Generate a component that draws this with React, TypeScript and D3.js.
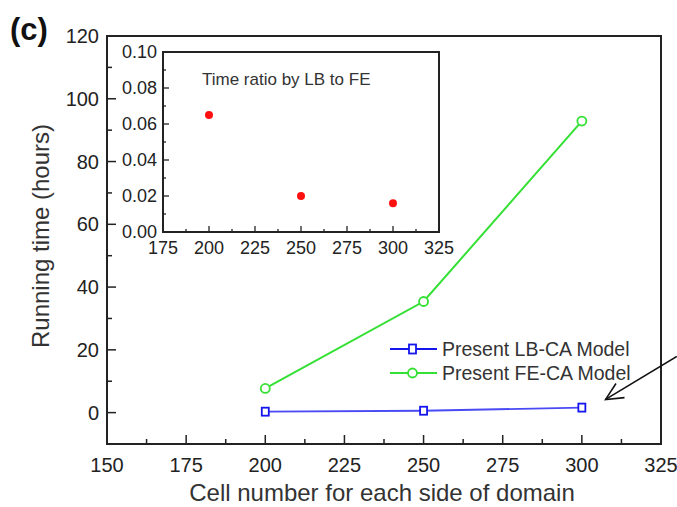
import React, { useEffect, useRef } from "react";
import * as d3 from "d3";

// main chart data
const cells = [200, 250, 300];
const lbTime = [0.3, 0.6, 1.6];
const feTime = [7.7, 35.4, 92.9];
const xTicks = [150, 175, 200, 225, 250, 275, 300, 325];
const yTicks = [0, 20, 40, 60, 80, 100, 120];

// inset data
const ratio = [0.065, 0.02, 0.016];
const insetXTicks = [175, 200, 225, 250, 275, 300, 325];
const insetYTicks = [0, 0.02, 0.04, 0.06, 0.08, 0.1];

// arrow annotation in data units [from, to]
const arrowFrom = [330, 17.9];
const arrowTo = [307.5, 4.2];

const W = 677;
const H = 507;
const FONT = "'Liberation Sans', Arial, sans-serif";
const INK = "#222";

const App = () => {
  const ref = useRef<SVGSVGElement>(null);

  useEffect(() => {
    const svg = d3.select(ref.current);
    svg.selectAll("*").remove();

    const x = d3.scaleLinear().domain([150, 325]).range([107, 661]);
    const y = d3.scaleLinear().domain([-10, 120]).range([444, 36]);

    const g = svg.append("g");

    // ticks (inward) - main
    const xMinor = d3.range(150, 326, 12.5);
    g.selectAll(".xt")
      .data(xMinor)
      .join("line")
      .attr("x1", d => x(d))
      .attr("x2", d => x(d))
      .attr("y1", 444)
      .attr("y2", d => (d % 25 === 0 ? 435 : 439))
      .attr("stroke", INK)
      .attr("stroke-width", 1.5);

    const yMinor = d3.range(0, 121, 10);
    g.selectAll(".yt")
      .data(yMinor)
      .join("line")
      .attr("x1", 107)
      .attr("x2", d => (d % 20 === 0 ? 116 : 112))
      .attr("y1", d => y(d))
      .attr("y2", d => y(d))
      .attr("stroke", INK)
      .attr("stroke-width", 1.5);

    g.append("rect")
      .attr("x", 107)
      .attr("y", 36)
      .attr("width", 661 - 107)
      .attr("height", 444 - 36)
      .attr("fill", "none")
      .attr("stroke", INK)
      .attr("stroke-width", 2);

    g.selectAll(".xl")
      .data(xTicks)
      .join("text")
      .attr("x", d => x(d))
      .attr("y", 472)
      .attr("text-anchor", "middle")
      .attr("font-size", 20)
      .attr("font-family", FONT)
      .attr("fill", INK)
      .text(d => d);

    g.selectAll(".yl")
      .data(yTicks)
      .join("text")
      .attr("x", 99)
      .attr("y", d => y(d) + 7)
      .attr("text-anchor", "end")
      .attr("font-size", 20)
      .attr("font-family", FONT)
      .attr("fill", INK)
      .text(d => d);

    g.append("text")
      .attr("x", (186 + 578) / 2)
      .attr("y", 501)
      .attr("text-anchor", "middle")
      .attr("font-size", 24)
      .attr("font-family", FONT)
      .attr("fill", "#333")
      .text("Cell number for each side of domain");

    g.append("text")
      .attr("transform", "translate(49,236) rotate(-90)")
      .attr("text-anchor", "middle")
      .attr("font-size", 24)
      .attr("font-family", FONT)
      .attr("fill", "#333")
      .text("Running time (hours)");

    g.append("text")
      .attr("x", 10)
      .attr("y", 40)
      .attr("font-size", 31)
      .attr("font-weight", "bold")
      .attr("font-family", FONT)
      .attr("fill", "#111")
      .text("(c)");

    // series
    const line = d3
      .line<number>()
      .x((_, i) => x(cells[i]))
      .y(d => y(d));

    g.append("path")
      .attr("d", line(feTime))
      .attr("fill", "none")
      .attr("stroke", "#33e033")
      .attr("stroke-width", 2);
    g.selectAll(".fe")
      .data(feTime)
      .join("circle")
      .attr("cx", (_, i) => x(cells[i]))
      .attr("cy", d => y(d))
      .attr("r", 4.5)
      .attr("fill", "#fff")
      .attr("stroke", "#33e033")
      .attr("stroke-width", 1.8);

    g.append("path")
      .attr("d", line(lbTime))
      .attr("fill", "none")
      .attr("stroke", "#4a4af5")
      .attr("stroke-width", 1.8);
    g.selectAll(".lb")
      .data(lbTime)
      .join("rect")
      .attr("x", (_, i) => x(cells[i]) - 3.5)
      .attr("y", d => y(d) - 4)
      .attr("width", 7)
      .attr("height", 8)
      .attr("fill", "#fff")
      .attr("stroke", "#1515ee")
      .attr("stroke-width", 1.8);

    // legend
    const legend = [
      { label: "Present LB-CA Model", color: "#1515ee", shape: "square" },
      { label: "Present FE-CA Model", color: "#33e033", shape: "circle" }
    ];
    legend.forEach((it, i) => {
      const ly = 349 + i * 24;
      g.append("line")
        .attr("x1", 390)
        .attr("x2", 437)
        .attr("y1", ly)
        .attr("y2", ly)
        .attr("stroke", it.color)
        .attr("stroke-width", 1.8);
      if (it.shape === "square") {
        g.append("rect")
          .attr("x", 409)
          .attr("y", ly - 4.5)
          .attr("width", 7)
          .attr("height", 9)
          .attr("fill", "#fff")
          .attr("stroke", it.color)
          .attr("stroke-width", 1.8);
      } else {
        g.append("circle")
          .attr("cx", 412.5)
          .attr("cy", ly)
          .attr("r", 4.5)
          .attr("fill", "#fff")
          .attr("stroke", it.color)
          .attr("stroke-width", 1.8);
      }
      g.append("text")
        .attr("x", 442)
        .attr("y", ly + 7)
        .attr("font-size", 19.5)
        .attr("font-family", FONT)
        .attr("fill", "#333")
        .text(it.label);
    });

    // arrow
    const ax1 = x(arrowFrom[0]);
    const ay1 = y(arrowFrom[1]);
    const ax2 = x(arrowTo[0]);
    const ay2 = y(arrowTo[1]);
    const ang = Math.atan2(ay1 - ay2, ax1 - ax2);
    const hl = 19;
    const spread = 0.45;
    g.append("line")
      .attr("x1", ax1)
      .attr("y1", ay1)
      .attr("x2", ax2)
      .attr("y2", ay2)
      .attr("stroke", "#111")
      .attr("stroke-width", 1.6);
    g.append("path")
      .attr(
        "d",
        `M${ax2 + hl * Math.cos(ang + spread)},${ay2 + hl * Math.sin(ang + spread)}L${ax2},${ay2}L${ax2 + hl * Math.cos(ang - spread)},${ay2 + hl * Math.sin(ang - spread)}`
      )
      .attr("fill", "none")
      .attr("stroke", "#111")
      .attr("stroke-width", 1.6);

    // inset
    const ix = d3.scaleLinear().domain([175, 325]).range([163, 439]);
    const iy = d3.scaleLinear().domain([0, 0.1]).range([232, 52]);
    const ins = svg.append("g");

    ins.selectAll(".ixt")
      .data(d3.range(175, 326, 12.5))
      .join("line")
      .attr("x1", d => ix(d))
      .attr("x2", d => ix(d))
      .attr("y1", 232)
      .attr("y2", d => (d % 25 === 0 ? 226 : 229))
      .attr("stroke", INK)
      .attr("stroke-width", 1.3);
    ins.selectAll(".iyt")
      .data(d3.range(0, 0.1001, 0.01))
      .join("line")
      .attr("x1", 163)
      .attr("x2", (_, i) => (i % 2 === 0 ? 169 : 166))
      .attr("y1", d => iy(d))
      .attr("y2", d => iy(d))
      .attr("stroke", INK)
      .attr("stroke-width", 1.3);

    ins.append("rect")
      .attr("x", 163)
      .attr("y", 52)
      .attr("width", 439 - 163)
      .attr("height", 232 - 52)
      .attr("fill", "none")
      .attr("stroke", INK)
      .attr("stroke-width", 2);

    ins.selectAll(".ixl")
      .data(insetXTicks)
      .join("text")
      .attr("x", d => ix(d))
      .attr("y", 254)
      .attr("text-anchor", "middle")
      .attr("font-size", 18)
      .attr("font-family", FONT)
      .attr("fill", INK)
      .text(d => d);
    ins.selectAll(".iyl")
      .data(insetYTicks)
      .join("text")
      .attr("x", 157)
      .attr("y", d => iy(d) + 6)
      .attr("text-anchor", "end")
      .attr("font-size", 18)
      .attr("font-family", FONT)
      .attr("fill", INK)
      .text(d => d3.format(".2f")(d));

    ins.append("text")
      .attr("x", 202)
      .attr("y", 85)
      .attr("font-size", 17)
      .attr("font-family", FONT)
      .attr("fill", "#333")
      .text("Time ratio by LB to FE");

    ins.selectAll(".rp")
      .data(ratio)
      .join("circle")
      .attr("cx", (_, i) => ix(cells[i]))
      .attr("cy", d => iy(d))
      .attr("r", 4)
      .attr("fill", "#ff1010");
  }, []);

  return (
    <svg
      ref={ref}
      width={W}
      height={H}
      style={{ position: "absolute", left: 0, top: 0, background: "#fff" }}
    />
  );
};

export default App;
